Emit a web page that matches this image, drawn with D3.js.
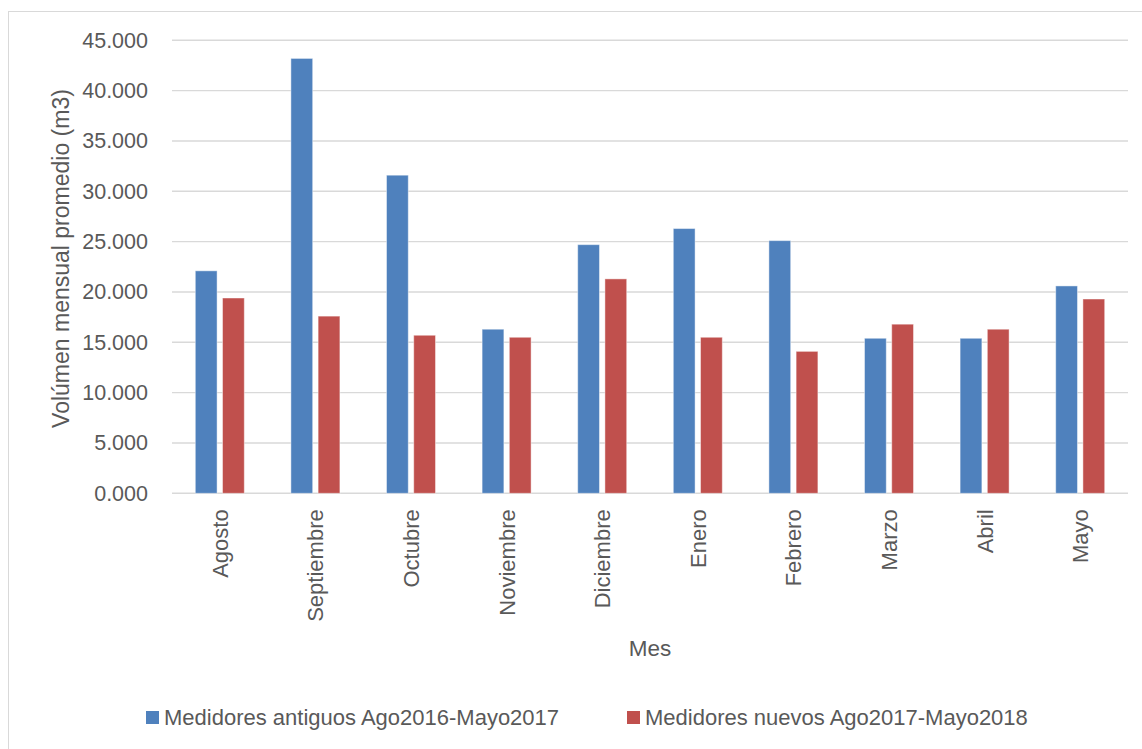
<!DOCTYPE html>
<html>
<head>
<meta charset="utf-8">
<script src="https://cdn.jsdelivr.net/npm/d3@7/dist/d3.min.js"></script>
<style>
  html, body { margin: 0; padding: 0; background: #ffffff; }
  svg { display: block; font-family: "Liberation Sans", Arial, sans-serif; }
</style>
</head>
<body>
<svg id="chart" width="1142" height="749"></svg>
<script>
// Monthly average volume per meter type (thousands of m3)
const months = ["Agosto", "Septiembre", "Octubre", "Noviembre", "Diciembre",
                "Enero", "Febrero", "Marzo", "Abril", "Mayo"];
const seriesNames = ["Medidores antiguos Ago2016-Mayo2017",
                     "Medidores nuevos Ago2017-Mayo2018"];
const antiguos = [22.1, 43.2, 31.6, 16.3, 24.7, 26.3, 25.1, 15.4, 15.4, 20.6];
const nuevos   = [19.4, 17.6, 15.7, 15.5, 21.3, 15.5, 14.1, 16.8, 16.3, 19.3];
const yTicks   = [0, 5, 10, 15, 20, 25, 30, 35, 40, 45];
const colors   = ["#4F81BD", "#C0504D"];

const svg = d3.select("#chart");
const textColor = "#595959";
const gridColor = "#D9D9D9";

// chart area frame
svg.append("rect")
  .attr("x", 8.5).attr("y", 11.5)
  .attr("width", 1160).attr("height", 760)
  .attr("fill", "#ffffff")
  .attr("stroke", "#D9D9D9").attr("stroke-width", 1);

const plot = { left: 172, right: 1128, top: 40.3, bottom: 493.3 };

const y = d3.scaleLinear().domain([0, 45]).range([plot.bottom, plot.top]);
const x0 = d3.scaleBand().domain(months).range([plot.left, plot.right])
  .paddingInner(0).paddingOuter(0);
const groupWidth = 49;
const x1 = d3.scaleBand().domain([0, 1]).range([0, groupWidth]).paddingInner(0.2);

// horizontal gridlines
svg.append("g")
  .selectAll("line")
  .data(yTicks)
  .join("line")
  .attr("x1", plot.left).attr("x2", plot.right)
  .attr("y1", d => y(d)).attr("y2", d => y(d))
  .attr("stroke", gridColor).attr("stroke-width", 1.4);

// y axis tick labels
const yAxis = d3.axisLeft(y).tickValues(yTicks)
  .tickSize(0).tickPadding(0)
  .tickFormat(d => d3.format(".3f")(d));
const gy = svg.append("g").attr("transform", `translate(148,0)`).call(yAxis);
gy.select(".domain").remove();
gy.selectAll("text")
  .attr("fill", textColor)
  .attr("font-size", "21.5px")
  .attr("font-family", "Liberation Sans, Arial, sans-serif");

// bars
const rows = months.map((m, i) => ({ month: m, values: [antiguos[i], nuevos[i]] }));
const groups = svg.append("g")
  .selectAll("g")
  .data(rows)
  .join("g")
  .attr("transform", d => `translate(${x0(d.month) + (x0.bandwidth() - groupWidth) / 2},0)`);

groups.selectAll("rect")
  .data(d => d.values.map((v, k) => ({ k, v })))
  .join("rect")
  .attr("x", d => x1(d.k))
  .attr("width", x1.bandwidth())
  .attr("y", d => y(d.v))
  .attr("height", d => y(0) - y(d.v))
  .attr("fill", d => colors[d.k])
  .attr("stroke", "rgba(255,255,255,0.45)")
  .attr("stroke-width", 1);

// x axis labels (rotated)
const xAxis = d3.axisBottom(x0).tickSize(0).tickPadding(0);
const gx = svg.append("g").attr("transform", `translate(0,${plot.bottom})`).call(xAxis);
gx.select(".domain").remove();
gx.selectAll("text")
  .attr("fill", textColor)
  .attr("font-size", "22px")
  .attr("font-family", "Liberation Sans, Arial, sans-serif")
  .attr("text-anchor", "end")
  .attr("transform", "rotate(-90)")
  .attr("x", -16)
  .attr("y", 0)
  .attr("dy", "0.36em");

// axis titles
svg.append("text")
  .attr("transform", `translate(69,258.5) rotate(-90)`)
  .attr("text-anchor", "middle")
  .attr("fill", textColor)
  .attr("font-size", "23px")
  .text("Volúmen mensual promedio (m3)");

svg.append("text")
  .attr("x", 650).attr("y", 656)
  .attr("text-anchor", "middle")
  .attr("fill", textColor)
  .attr("font-size", "22.5px")
  .text("Mes");

// legend
const legendItems = [
  { name: seriesNames[0], color: colors[0], x: 146 },
  { name: seriesNames[1], color: colors[1], x: 627 }
];
const lg = svg.append("g").selectAll("g").data(legendItems).join("g")
  .attr("transform", d => `translate(${d.x},711)`);
lg.append("rect")
  .attr("width", 13).attr("height", 13)
  .attr("fill", d => d.color);
lg.append("text")
  .attr("x", 18).attr("y", 6.5).attr("dy", "0.36em")
  .attr("fill", textColor)
  .attr("font-size", "22px")
  .text(d => d.name);
</script>
</body>
</html>
